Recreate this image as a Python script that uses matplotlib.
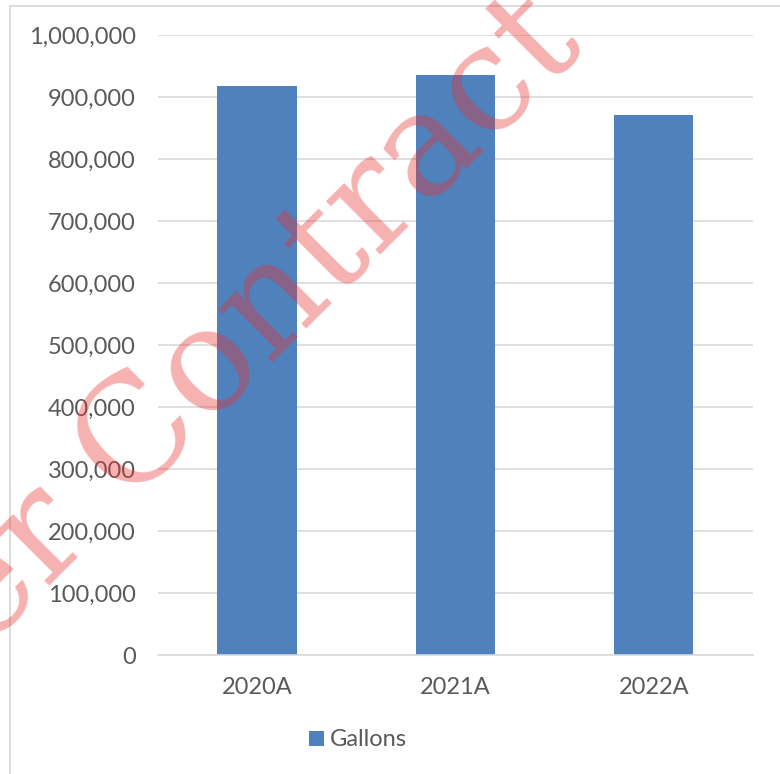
import matplotlib
matplotlib.use("Agg")
import matplotlib.pyplot as plt
from matplotlib.patches import Rectangle
from matplotlib.ticker import FuncFormatter, MultipleLocator
import numpy as np

categories = ["2020A", "2021A", "2022A"]
gallons = [917000, 935000, 871000]
series_name = "Gallons"
watermark = "er Contract"

W, H = 780, 774
fig = plt.figure(figsize=(W / 100, H / 100), dpi=100)
fig.patch.set_facecolor("white")

# chart border
fig.patches.append(Rectangle((10 / W, -0.05), 1.2, 1 - 6 / H + 0.05, transform=fig.transFigure,
                             facecolor="none", edgecolor="#D9D9D9", linewidth=1.3, zorder=0))

ax = fig.add_axes([158 / W, 1 - 655 / H, (753 - 158) / W, (655 - 35) / H])
x = np.arange(len(categories))
ax.bar(x, gallons, width=0.4, color="#4F81BD", zorder=2, label=series_name)
ax.set_xlim(-0.5, len(categories) - 0.5)
ax.set_ylim(0, 1000000)
ax.yaxis.set_major_locator(MultipleLocator(100000))
ax.yaxis.set_major_formatter(FuncFormatter(lambda v, p: f"{int(v):,}"))
ax.grid(axis="y", color="#D9D9D9", linewidth=1.2, zorder=0)
ax.set_axisbelow(True)
for s in ["left", "right", "top"]:
    ax.spines[s].set_visible(False)
ax.spines["bottom"].set_color("#D9D9D9")
ax.spines["bottom"].set_linewidth(1.2)
ax.set_xticks(x)
ax.set_xticklabels(categories)
ax.tick_params(axis="both", length=0, labelsize=17, labelcolor="#595959")
ax.tick_params(axis="y", pad=16)
ax.tick_params(axis="x", pad=16)
for lab in ax.get_xticklabels() + ax.get_yticklabels():
    lab.set_fontfamily("Lato")

leg = fig.legend(loc="center", bbox_to_anchor=(358 / W, 1 - 740 / H), frameon=False,
                 handlelength=0.6, handleheight=0.6, handletextpad=0.25,
                 prop={"family": "Lato", "size": 17})
for t in leg.get_texts():
    t.set_color("#595959")

# watermark
fig.text(-15 / W, 1 - 651 / H, watermark, rotation=45, rotation_mode="anchor",
         ha="left", va="baseline", fontsize=105, family="DejaVu Serif",
         color="#E83030", alpha=0.38, zorder=10)

fig.savefig("out.png", dpi=100)
